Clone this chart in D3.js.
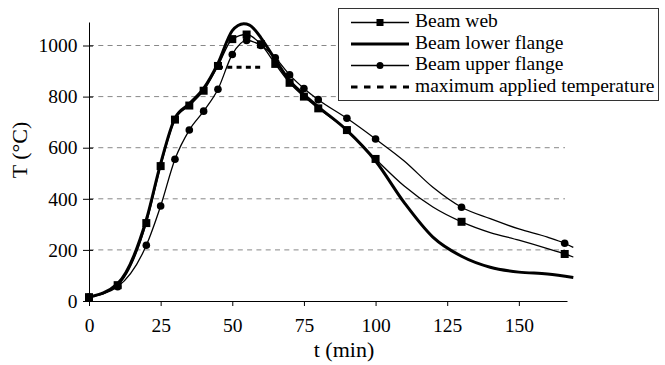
<!DOCTYPE html>
<html>
<head>
<meta charset="utf-8">
<script src="https://cdn.jsdelivr.net/npm/d3@7"></script>
<style>
  html, body { margin: 0; padding: 0; background: #fff; }
  svg { display: block; }
  text { font-family: "Liberation Serif", "Times New Roman", Tinos, "DejaVu Serif", "Noto Serif", serif; fill: #000; }
</style>
</head>
<body>
<svg id="chart" width="665" height="365"></svg>
<script>
// Temperature histories (time in min, temperature in °C)
const webTime   = [0, 10, 20, 25, 30, 35, 40, 45, 50, 55, 60, 65, 70, 75, 80, 90, 100, 110, 120, 130, 140, 150, 160, 166, 169];
const webTemp   = [15, 62, 305, 528, 710, 765, 823, 920, 1025, 1043, 1005, 928, 854, 800, 754, 669, 556, 450, 368, 310, 268, 238, 205, 184, 172];
const webMarkTime = [0, 10, 20, 25, 30, 35, 40, 45, 50, 55, 60, 65, 70, 75, 80, 90, 100, 130, 166];
const webMarkTemp = [15, 62, 305, 528, 710, 765, 823, 920, 1025, 1043, 1005, 928, 854, 800, 754, 669, 556, 310, 184];

const lowerTime = [0, 10, 20, 25, 30, 35, 40, 45, 50, 52, 54, 56, 58, 60, 65, 70, 75, 80, 90, 100, 110, 120, 130, 140, 150, 160, 169];
const lowerTemp = [15, 68, 318, 538, 716, 772, 832, 930, 1058, 1078, 1085, 1080, 1060, 1030, 945, 862, 808, 760, 668, 548, 385, 250, 175, 132, 113, 106, 92];

const upperTime = [0, 10, 20, 25, 30, 35, 40, 45, 50, 55, 60, 65, 70, 75, 80, 90, 100, 110, 120, 130, 140, 150, 160, 166, 169];
const upperTemp = [15, 56, 218, 372, 555, 669, 743, 829, 965, 1020, 1000, 952, 885, 832, 788, 715, 634, 548, 445, 367, 322, 282, 250, 226, 210];
const upperMarkTime = [0, 10, 20, 25, 30, 35, 40, 45, 50, 55, 60, 65, 70, 75, 80, 90, 100, 130, 166];
const upperMarkTemp = [15, 56, 218, 372, 555, 669, 743, 829, 965, 1020, 1000, 952, 885, 832, 788, 715, 634, 367, 226];

const maxTime = [45, 60];
const maxTemp = [915, 915];

const xTicks = [0, 25, 50, 75, 100, 125, 150];
const yTicks = [0, 200, 400, 600, 800, 1000];
const legendLabels = ["Beam web", "Beam lower flange", "Beam upper flange", "maximum applied temperature"];

const FONT = '"Liberation Serif", "Times New Roman", Tinos, "DejaVu Serif", "Noto Serif", serif';

const svg = d3.select("#chart");
const x = d3.scaleLinear().domain([0, 166.8]).range([89, 567]);
const y = d3.scaleLinear().domain([0, 1092]).range([301, 22]);

const pts = (ts, vs) => ts.map((t, i) => [t, vs[i]]);
const line = d3.line().x(d => x(d[0])).y(d => y(d[1])).curve(d3.curveMonotoneX);

// horizontal dashed gridlines
svg.append("g").selectAll("line").data(yTicks.filter(v => v > 0)).join("line")
  .attr("x1", 89).attr("x2", 565)
  .attr("y1", d => y(d)).attr("y2", d => y(d))
  .attr("stroke", "#888").attr("stroke-width", 1)
  .attr("stroke-dasharray", "5,4.3");

// series lines
const plot = svg.append("g");
plot.append("path").datum(pts(upperTime, upperTemp)).attr("d", line)
  .attr("fill", "none").attr("stroke", "#000").attr("stroke-width", 1.3);
plot.append("path").datum(pts(webTime, webTemp)).attr("d", line)
  .attr("fill", "none").attr("stroke", "#000").attr("stroke-width", 1.3);
plot.append("path").datum(pts(lowerTime, lowerTemp)).attr("d", line)
  .attr("fill", "none").attr("stroke", "#000").attr("stroke-width", 3);

// markers
plot.append("g").selectAll("circle").data(pts(upperMarkTime, upperMarkTemp)).join("circle")
  .attr("cx", d => x(d[0])).attr("cy", d => y(d[1])).attr("r", 3.8).attr("fill", "#000");
plot.append("g").selectAll("rect").data(pts(webMarkTime, webMarkTemp)).join("rect")
  .attr("x", d => x(d[0]) - 4).attr("y", d => y(d[1]) - 4)
  .attr("width", 8).attr("height", 8).attr("fill", "#000");

// maximum applied temperature
plot.append("path").datum(pts(maxTime, maxTemp)).attr("d", d3.line().x(d => x(d[0])).y(d => y(d[1])))
  .attr("fill", "none").attr("stroke", "#000").attr("stroke-width", 3)
  .attr("stroke-dasharray", "5,4.3");

// axes
const xAxis = svg.append("g").attr("transform", `translate(0,${y(0)})`)
  .call(d3.axisBottom(x).tickValues(xTicks).tickFormat(d3.format("d"))
    .tickSizeInner(5).tickSizeOuter(0).tickPadding(12));
const yAxis = svg.append("g").attr("transform", `translate(${x(0)},0)`)
  .call(d3.axisLeft(y).tickValues(yTicks).tickFormat(d3.format("d"))
    .tickSizeInner(6).tickSizeOuter(0).tickPadding(5.5));
yAxis.selectAll(".tick line").attr("x2", -6).attr("x1", 4);
[xAxis, yAxis].forEach(a => {
  a.attr("font-family", FONT).attr("font-size", 19.5);
  a.selectAll("path, line").attr("stroke", "#000").attr("stroke-width", 1);
  a.selectAll("text").attr("fill", "#000");
});

// axis titles
svg.append("text").attr("x", 344).attr("y", 357).attr("text-anchor", "middle")
  .style("font-size", "22px").text("t (min)");
svg.append("text").attr("transform", "translate(27,150) rotate(-90)").attr("text-anchor", "middle")
  .style("font-size", "22px").text("T (°C)");

// legend
const lg = svg.append("g");
lg.append("rect").attr("x", 338.5).attr("y", 8.5).attr("width", 320).attr("height", 92)
  .attr("fill", "#fff").attr("stroke", "#333").attr("stroke-width", 1);
const rowY = i => 22.5 + i * 21.5;
const styles = [
  { w: 1.3, dash: null, mark: "square" },
  { w: 3, dash: null, mark: null },
  { w: 1.3, dash: null, mark: "circle" },
  { w: 3, dash: "6.5,6.5", mark: null }
];
legendLabels.forEach((lab, i) => {
  const yy = rowY(i), s = styles[i];
  lg.append("line").attr("x1", 351).attr("x2", 409).attr("y1", yy).attr("y2", yy)
    .attr("stroke", "#000").attr("stroke-width", s.w)
    .attr("stroke-dasharray", s.dash);
  if (s.mark === "square") lg.append("rect").attr("x", 380 - 3.5).attr("y", yy - 3.5).attr("width", 7).attr("height", 7).attr("fill", "#000");
  if (s.mark === "circle") lg.append("circle").attr("cx", 380).attr("cy", yy).attr("r", 3.5).attr("fill", "#000");
  lg.append("text").attr("x", 415).attr("y", yy + 4.5).style("font-size", "19.5px").text(lab);
});
</script>
</body>
</html>
